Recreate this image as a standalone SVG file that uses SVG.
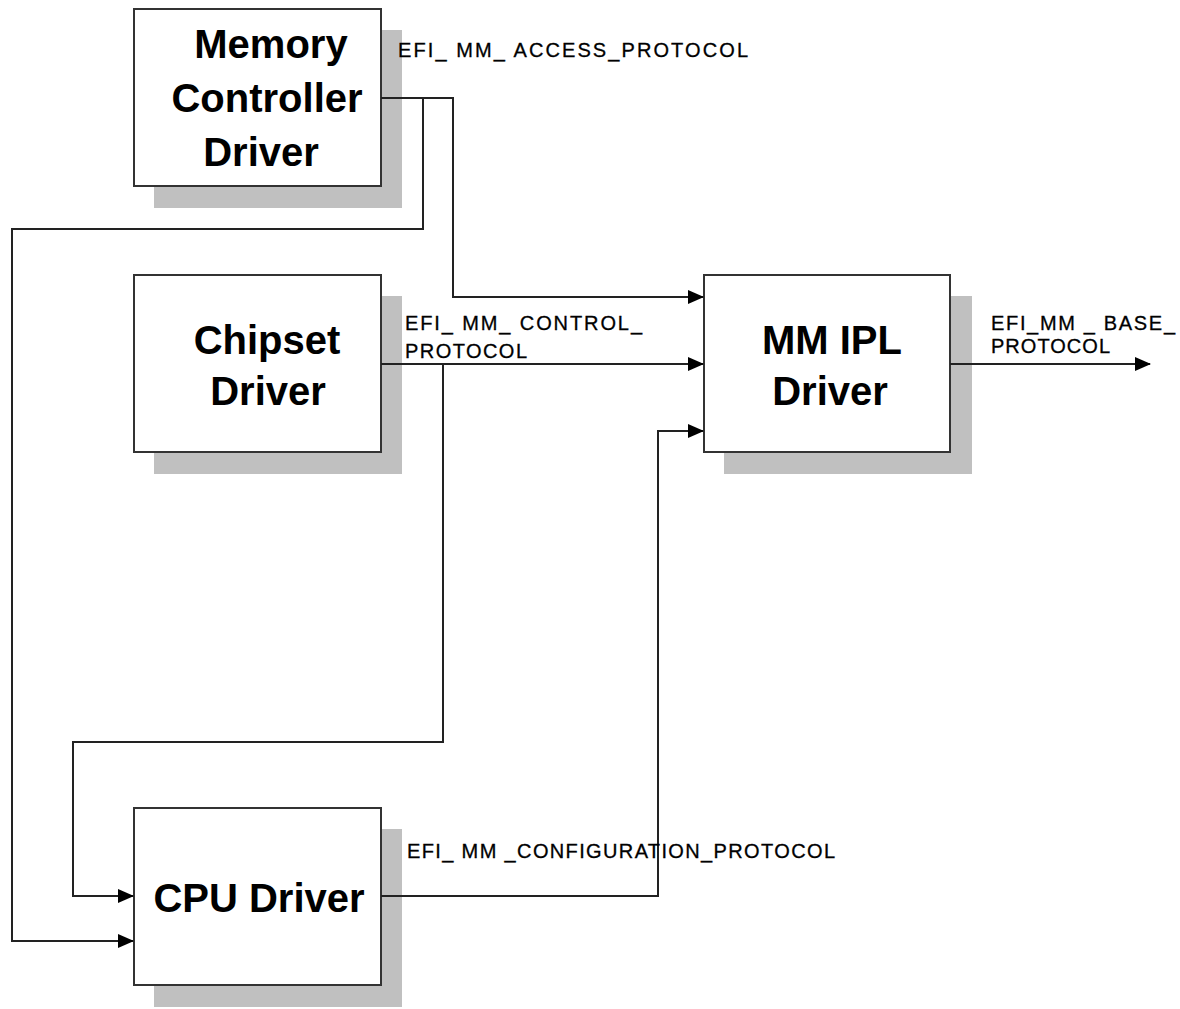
<svg xmlns="http://www.w3.org/2000/svg" width="1180" height="1009" viewBox="0 0 1180 1009">
<style>
.shadow{fill:#c0c0c0;stroke:none}
.box{fill:#fff;stroke:#333;stroke-width:2}
.node{font-family:"Liberation Sans",Arial,sans-serif;font-weight:bold;font-size:40px;fill:#000;text-anchor:middle}
.lbl{font-family:"Liberation Sans",Arial,sans-serif;font-size:20px;fill:#000;stroke:#000;stroke-width:0.3}
.conn{fill:none;stroke:#222;stroke-width:2}
</style>
<defs>
<marker id="arr" markerWidth="16" markerHeight="14" refX="15" refY="7" orient="auto" markerUnits="userSpaceOnUse">
<path d="M0,0 L16,7 L0,14 Z" fill="#000"/>
</marker>
</defs>
<rect width="1180" height="1009" fill="#fff"/>
<g id="memory-controller-driver">
<rect class="shadow" x="154" y="30" width="248" height="178"/>
<rect class="box" x="134" y="9" width="247" height="177"/>
<text class="node" x="271" y="58">Memory</text>
<text class="node" x="267" y="112">Controller</text>
<text class="node" x="261" y="166">Driver</text>
</g>
<g id="chipset-driver">
<rect class="shadow" x="154" y="296" width="248" height="178"/>
<rect class="box" x="134" y="275" width="247" height="177"/>
<text class="node" x="267" y="354">Chipset</text>
<text class="node" x="268" y="405">Driver</text>
</g>
<g id="mm-ipl-driver">
<rect class="shadow" x="724" y="296" width="248" height="178"/>
<rect class="box" x="704" y="275" width="246" height="177"/>
<text class="node" x="832" y="354">MM IPL</text>
<text class="node" x="830" y="405">Driver</text>
</g>
<g id="cpu-driver">
<rect class="shadow" x="154" y="829" width="248" height="178"/>
<rect class="box" x="134" y="808" width="247" height="177"/>
<text class="node" x="259" y="912">CPU Driver</text>
</g>
<g id="connectors">
<polyline class="conn" points="381,98 453,98 453,297 703,297" marker-end="url(#arr)"/>
<polyline class="conn" points="423,98 423,229 12,229 12,941 133,941" marker-end="url(#arr)"/>
<polyline class="conn" points="381,364 703,364" marker-end="url(#arr)"/>
<polyline class="conn" points="443,364 443,742 73,742 73,896 133,896" marker-end="url(#arr)"/>
<polyline class="conn" points="381,896 658,896 658,431 703,431" marker-end="url(#arr)"/>
<polyline class="conn" points="950,364 1150,364" marker-end="url(#arr)"/>
</g>
<g id="labels">
<text class="lbl" x="398" y="57" textLength="350" lengthAdjust="spacing">EFI_ MM_ ACCESS_PROTOCOL</text>
<text class="lbl" x="405" y="330" textLength="237" lengthAdjust="spacing">EFI_ MM_ CONTROL_</text>
<text class="lbl" x="405" y="358" textLength="122" lengthAdjust="spacing">PROTOCOL</text>
<text class="lbl" x="991" y="330" textLength="184" lengthAdjust="spacing">EFI_MM _ BASE_</text>
<text class="lbl" x="991" y="353" textLength="119" lengthAdjust="spacing">PROTOCOL</text>
<text class="lbl" x="407" y="858" textLength="428" lengthAdjust="spacing">EFI_ MM _CONFIGURATION_PROTOCOL</text>
</g>
</svg>
